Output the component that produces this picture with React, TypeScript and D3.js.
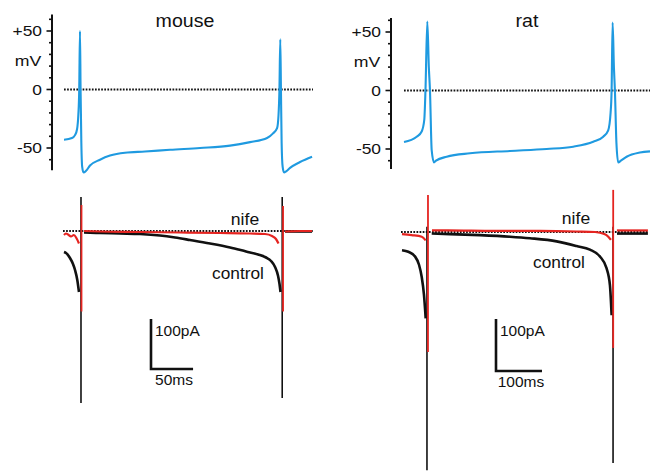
import React from 'react';
import * as d3 from 'd3';

type Pt = [number, number];

// membrane potential traces (ms, mV)
const mouseVm: Pt[] = [
  [0, -43], [9.5, -41.5], [13.1, -39], [15.5, -34], [17, -22], [18.1, 0], [19, 50], [19.7, 0],
  [20.6, -45], [21.6, -66], [23.2, -71], [26.2, -69.5], [30.9, -65], [42.8, -60], [54.7, -56.5],
  [72.5, -54], [96.3, -53], [126, -51.5], [161.7, -50], [197.4, -48], [221.2, -45], [241.4, -41.5],
  [248.5, -37.5], [253.3, -33], [255, -22], [256.1, 0], [257.1, 43], [257.9, 0], [258.7, -45],
  [259.9, -66], [261.6, -71], [264, -70], [268.7, -67], [280.6, -62], [294.9, -57.5],
];
const ratVm: Pt[] = [
  [0, -44], [27.6, -39.5], [38.5, -35], [44.1, -25], [46.7, 0], [50.7, 59], [54, 20], [56.5, 0],
  [60.2, -51], [65.2, -61.4], [69.6, -60], [92.8, -56.6], [143.5, -53.7], [230.4, -51.7],
  [310.2, -50], [368, -48], [411.5, -43.8], [433.3, -39.5], [444.1, -34], [449.3, -19], [451.5, 0],
  [453.7, 58], [456.5, 20], [458.7, 0], [462, -45], [465.9, -61.4], [471.7, -60], [484.1, -56.6],
  [513, -53], [535, -52],
];

// holding currents (ms, pA), split around the spike transients
const mouseControl: Pt[][] = [
  [[0, -42], [2.4, -44], [7.1, -54], [10.7, -66], [13.1, -78], [15.8, -98], [17.8, -122]],
  [[23.8, -3], [42.8, -4], [66.6, -5], [90.4, -6], [114.2, -9], [132, -13], [149.8, -18],
    [173.6, -25], [197.4, -33], [216.4, -41], [230.7, -47], [240.2, -53], [246.1, -60],
    [250.9, -72], [254.5, -90], [256.2, -106], [257.4, -122]],
  [[262.8, -1], [280.6, -1], [294.9, -1]],
];
const mouseNife: Pt[][] = [
  [[0, -8], [2.4, -5], [4.8, -7], [8.3, -11], [11.7, -8], [15, -15], [17.8, -25]],
  [[23.8, 0], [42.8, -1], [90.4, -2], [137.9, -3], [185.5, -4], [221.2, -5], [239, -6],
    [247.3, -10], [252, -16], [255, -25]],
  [[262.8, -1], [280, 0], [294.9, 0]],
];
const ratControl: Pt[][] = [
  [[0, -35], [13.7, -38], [28.3, -47], [37, -63], [42.8, -86], [47.8, -121], [51.5, -166]],
  [[64.6, -3], [104.3, -4], [169.6, -6], [234.8, -9], [278.3, -12], [336.3, -18], [379.8, -27],
    [408.7, -34], [430.4, -47], [445, -70], [452.2, -102], [455.9, -160]],
  [[467.6, -3], [500, -3], [534.8, -3]],
];
const ratNife: Pt[][] = [
  [[0, -4], [21, -6], [43, -9], [51.5, -16]],
  [[65.2, 3], [100, 3], [200, 2], [300, 2], [380, 1], [420, 0], [440, -4], [448.6, -9], [454.3, -15]],
  [[467.4, 3], [500, 3], [534.8, 3]],
];

// spike transients: [ms, top pA, bottom pA]
const mouseControlSpikes: [number, number, number][] = [[20.2, 68, -344], [259.4, 68, -334]];
const mouseNifeSpikes: [number, number, number][] = [[20.8, 52, -161], [260.4, 50, -161]];
const ratControlSpikes: [number, number, number][] = [[54.3, 10, -458], [459, 10, -444]];
const ratNifeSpikes: [number, number, number][] = [[56.5, 71, -231], [459.3, 81, -223]];

const vmTicks = [-60, -50, -40, -30, -20, -10, 0, 10, 20, 30, 40, 50, 60];
const vmLabels = [
  { v: 50, text: '+50' },
  { v: 0, text: '0' },
  { v: -50, text: '-50' },
];

const BLUE = '#1f9ae0';
const RED = '#e52420';
const INK = '#111';
const FONT = '"Liberation Sans", Arial, Helvetica, sans-serif';

const Label = ({ x, y, sx = 1, size, anchor = 'start', children }: any) => (
  <text
    transform={`translate(${x},${y}) scale(${sx},1)`}
    textAnchor={anchor}
    fontSize={size}
    fontFamily={FONT}
    fill={INK}
  >
    {children}
  </text>
);

const VmPanel = ({ data, x, y, axisX, axisRange, title, titleX }: any) => {
  const line = d3.line<Pt>().x(d => x(d[0])).y(d => y(d[1])).curve(d3.curveMonotoneX);
  const [x0, x1] = x.range();
  return (
    <g>
      <line x1={axisX} x2={axisX} y1={y(axisRange[1])} y2={y(axisRange[0])} stroke={INK} strokeWidth={2} />
      {vmTicks.map(t => (
        <line key={t} x1={axisX - (t % 50 === 0 ? 5.5 : 3)} x2={axisX} y1={y(t)} y2={y(t)} stroke={INK} strokeWidth={1.6} />
      ))}
      {vmLabels.map(l => (
        <Label key={l.text} x={axisX - 10} y={y(l.v) + 5.2} sx={1.2} size={14.5} anchor="end">{l.text}</Label>
      ))}
      <Label x={axisX - 24} y={y(25) + 6} sx={1.22} size={14.5} anchor="middle">mV</Label>
      <line x1={x0} x2={x1} y1={y(0)} y2={y(0)} stroke={INK} strokeWidth={2} strokeDasharray="1.7,1.4" />
      <path d={line(data) || ''} fill="none" stroke={BLUE} strokeWidth={2.1} strokeLinejoin="round" />
      <Label x={titleX} y={26.5} sx={1.12} size={17.5} anchor="middle">{title}</Label>
    </g>
  );
};

const CurrentPanel = ({ control, nife, cSpikes, nSpikes, x, y, bar, barMs, labels }: any) => {
  const line = d3.line<Pt>().x(d => x(d[0])).y(d => y(d[1])).curve(d3.curveMonotoneX);
  const [x0, x1] = x.range();
  const barH = y(0) - y(100);
  const barW = x(barMs) - x(0);
  return (
    <g>
      <line x1={x0 - 1} x2={x1} y1={y(0)} y2={y(0)} stroke={INK} strokeWidth={1.8} strokeDasharray="1.7,1.4" />
      {control.map((seg: Pt[], i: number) => (
        <path key={i} d={line(seg) || ''} fill="none" stroke={INK} strokeWidth={2.6} strokeLinejoin="round" />
      ))}
      {cSpikes.map((s: number[], i: number) => (
        <line key={i} x1={x(s[0])} x2={x(s[0])} y1={y(s[1])} y2={y(s[2])} stroke={INK} strokeWidth={1.6} />
      ))}
      {nife.map((seg: Pt[], i: number) => (
        <path key={i} d={line(seg) || ''} fill="none" stroke={RED} strokeWidth={2.2} strokeLinejoin="round" />
      ))}
      {nSpikes.map((s: number[], i: number) => (
        <line key={i} x1={x(s[0])} x2={x(s[0])} y1={y(s[1])} y2={y(s[2])} stroke={RED} strokeWidth={1.8} />
      ))}
      <Label x={labels.nife[0]} y={labels.nife[1]} sx={1.1} size={16} anchor="middle">nife</Label>
      <Label x={labels.control[0]} y={labels.control[1]} sx={1.08} size={16} anchor="middle">control</Label>
      <path
        d={`M${bar[0]},${bar[1] - barH}V${bar[1]}H${bar[0] + barW}`}
        fill="none"
        stroke={INK}
        strokeWidth={2.6}
      />
      <Label x={bar[0] + 4} y={bar[1] - barH + 17} size={15.5}>100pA</Label>
      <Label x={bar[0] + barW / 2 + 2} y={bar[1] + 16} size={15.5} anchor="middle">{barMs}ms</Label>
    </g>
  );
};

export default function App() {
  const xMouse = d3.scaleLinear().domain([0, 296]).range([64, 313]);
  const xRat = d3.scaleLinear().domain([0, 535]).range([404, 650]);
  const xRatI = d3.scaleLinear().domain([0, 535]).range([402, 648]);
  const yMouseV = d3.scaleLinear().domain([-50, 50]).range([148, 31]);
  const yRatV = d3.scaleLinear().domain([-50, 50]).range([149, 32]);
  const yMouseI = d3.scaleLinear().domain([-100, 0]).range([281, 231]);
  const yRatI = d3.scaleLinear().domain([-100, 0]).range([284, 232]);

  return (
    <svg width={652} height={471} style={{ position: 'absolute', left: 0, top: 0, background: '#fff' }}>
      <VmPanel data={mouseVm} x={xMouse} y={yMouseV} axisX={52} axisRange={[-69, 64]} title="mouse" titleX={185} />
      <VmPanel data={ratVm} x={xRat} y={yRatV} axisX={391} axisRange={[-67, 62]} title="rat" titleX={527} />
      <CurrentPanel
        control={mouseControl}
        nife={mouseNife}
        cSpikes={mouseControlSpikes}
        nSpikes={mouseNifeSpikes}
        x={xMouse}
        y={yMouseI}
        bar={[151, 369]}
        barMs={50}
        labels={{ nife: [245, 225], control: [238, 279] }}
      />
      <CurrentPanel
        control={ratControl}
        nife={ratNife}
        cSpikes={ratControlSpikes}
        nSpikes={ratNifeSpikes}
        x={xRatI}
        y={yRatI}
        bar={[496, 371]}
        barMs={100}
        labels={{ nife: [576, 224], control: [559, 268] }}
      />
    </svg>
  );
}
